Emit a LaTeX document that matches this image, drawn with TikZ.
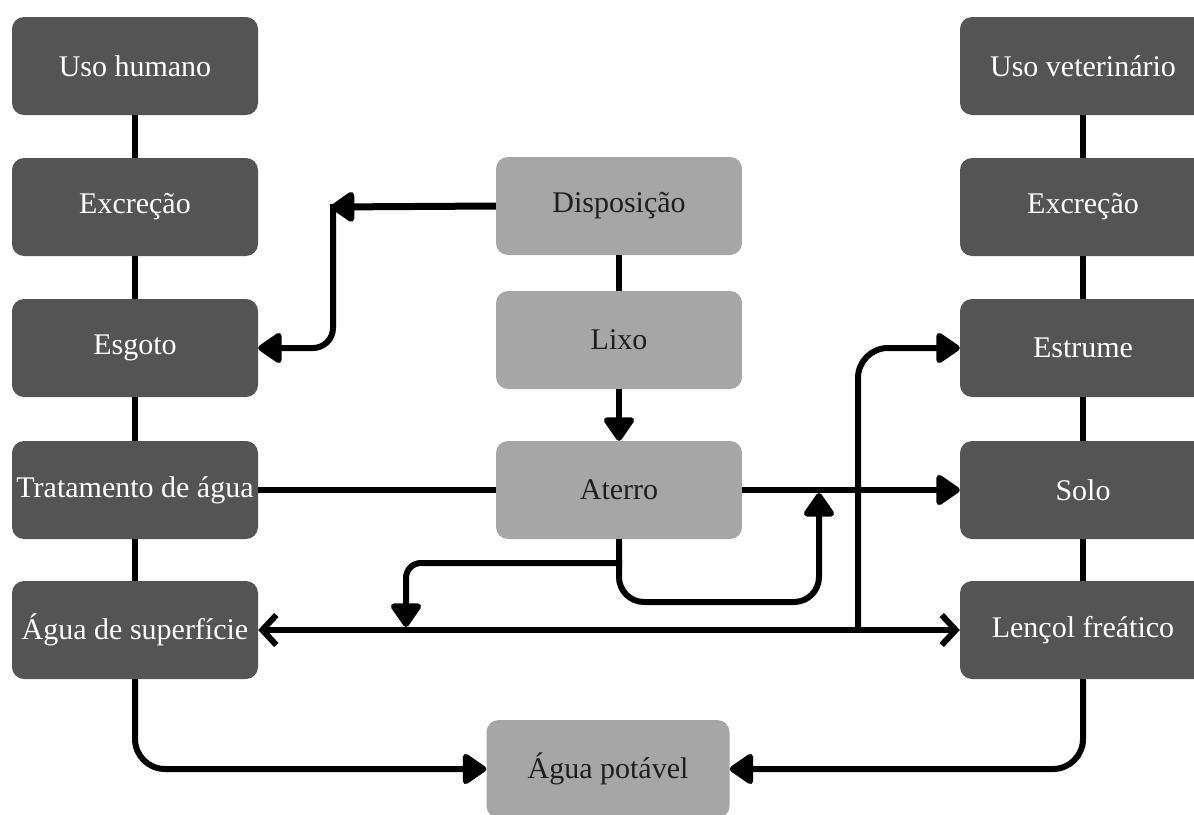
\documentclass[tikz,border=0pt]{standalone}
\usepackage{fontspec}
\setmainfont{Liberation Serif}
\usetikzlibrary{arrows.meta}
\definecolor{darkbox}{HTML}{545454}
\definecolor{lightbox}{HTML}{A6A6A6}
\definecolor{darktext}{HTML}{1E1E1E}
\begin{document}
\begin{tikzpicture}[x=1pt,y=-1pt,
  box/.style={rectangle, rounded corners=12pt, minimum width=246pt, minimum height=98pt, inner sep=0pt, font=\fontsize{30}{36}\selectfont},
  dbox/.style={box, fill=darkbox, text=white},
  lbox/.style={box, fill=lightbox, text=darktext},
  conn/.style={line width=6pt, draw=black},
  arr/.style={conn, -{Triangle[length=26pt,width=34pt,line join=round]}},
  barb/.style={conn, {Straight Barb[length=14pt,width=30pt]}-{Straight Barb[length=14pt,width=30pt]}}
]
\useasboundingbox (0,0) rectangle (1194,814);
% left column
\node[dbox] (uh) at (135,66) {Uso humano};
\node[dbox] (exl) at (135,207) {Excreção};
\node[dbox] (esg) at (135,348) {Esgoto};
\node[dbox] (trat) at (135,490) {Tratamento de água};
\node[dbox] (asup) at (135,630) {Água de superfície};
% right column
\node[dbox] (uv) at (1083,66) {Uso veterinário};
\node[dbox] (exr) at (1083,207) {Excreção};
\node[dbox] (estr) at (1083,348) {Estrume};
\node[dbox] (solo) at (1083,490) {Solo};
\node[dbox] (lenc) at (1083,630) {Lençol freático};
% centre column
\node[lbox] (disp) at (619,206) {Disposição};
\node[lbox] (lixo) at (619,340) {Lixo};
\node[lbox] (ater) at (619,490) {Aterro};
\node[lbox, minimum width=243pt] (pot) at (608,769) {Água potável};
% column links
\draw[conn] (uh) -- (exl);
\draw[conn] (exl) -- (esg);
\draw[conn] (esg) -- (trat);
\draw[conn] (trat) -- (asup);
\draw[conn] (uv) -- (exr);
\draw[conn] (exr) -- (estr);
\draw[conn] (estr) -- (solo);
\draw[conn] (solo) -- (lenc);
\draw[conn] (disp) -- (lixo);
\draw[arr] (lixo) -- (ater);
% horizontal links
\draw[conn] (trat) -- (ater);
\draw[arr] (ater) -- (solo);
\draw[barb] (asup.east) -- (lenc.west);
% to drinking water
\draw[arr, rounded corners=30pt] (asup.south) |- (pot.west);
\draw[arr, rounded corners=30pt] (lenc.south) |- (pot.east);
% disposal
\coordinate (dcorner) at (331,207);
\coordinate (dtop) at (333,204);
\draw[arr, line width=7pt] (disp.west) -- (dcorner);
\draw[arr, rounded corners=20pt] (dtop) |- (esg.east);
% vertical to Estrume
\coordinate (jv) at (858,630);
\draw[arr, rounded corners=30pt] (jv) |- (estr.west);
% landfill branches
\coordinate (asplit) at (622,563);
\coordinate (ldrop) at (406,627);
\draw[arr, rounded corners=15pt] (asplit) -| (ldrop);
\coordinate (rbot) at (819,602);
\coordinate (rtop) at (819,493);
\draw[arr, rounded corners=25pt] (ater.south) |- (rbot) -- (rtop);
\end{tikzpicture}
\end{document}
